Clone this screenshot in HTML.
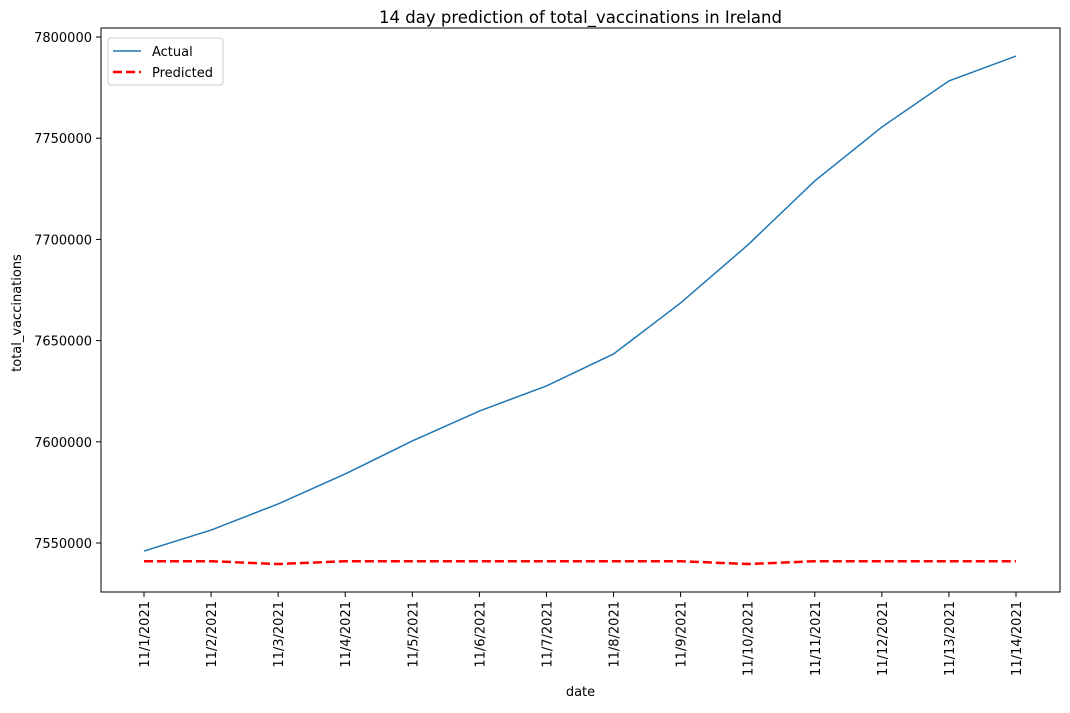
<!DOCTYPE html>
<html><head><meta charset="utf-8"><style>
body{margin:0;background:#fff;font-family:"DejaVu Sans","Liberation Sans",sans-serif;}
</style></head><body>
<svg id="chart" width="1070" height="709" xmlns="http://www.w3.org/2000/svg" font-family="DejaVu Sans, Liberation Sans, sans-serif"></svg>
<script>
const categories=["11/1/2021","11/2/2021","11/3/2021","11/4/2021","11/5/2021","11/6/2021","11/7/2021","11/8/2021","11/9/2021","11/10/2021","11/11/2021","11/12/2021","11/13/2021","11/14/2021"];
const actualValues=[7546000,7556400,7569300,7584100,7600400,7615200,7627600,7643400,7668600,7697200,7728900,7755500,7778300,7790600];
const predictedValues=[7541000,7541000,7539600,7541000,7541000,7541000,7541000,7541000,7541000,7539600,7541000,7541000,7541000,7541000];
const yTicks=[7550000,7600000,7650000,7700000,7750000,7800000];

const NS="http://www.w3.org/2000/svg";
const svg=document.getElementById('chart');
const L=101,R=1060,T=28,B=592;
function yScale(v){return 543-(v-7550000)*101.2/50000;}
function xScale(i){return 144+i*(1016-144)/(categories.length-1);}
function el(tag,attrs,parent){const e=document.createElementNS(NS,tag);for(const k in attrs)e.setAttribute(k,attrs[k]);(parent||svg).appendChild(e);return e;}
function txt(s,attrs){const t=el('text',Object.assign({'font-size':13,fill:'#000'},attrs));t.textContent=s;return t;}

const frame=el('rect',{x:L,y:T,width:R-L,height:B-T,fill:'none',stroke:'#000','stroke-width':1});



yTicks.forEach(v=>{
  const y=yScale(v);
  const tk=el('line',{x1:L-5,x2:L,y1:y,y2:y,stroke:'#000'});
  
  
  const t=txt(String(v),{x:L-9,y:y+5,'text-anchor':'end'});
  
  
});
categories.forEach((c,i)=>{
  const x=xScale(i);
  const tk=el('line',{x1:x,x2:x,y1:B,y2:B+5,stroke:'#000'});
  
  
  const t=txt(c,{x:0,y:0,'text-anchor':'end',transform:`translate(${x+5},${B+9}) rotate(-90)`});
  
  
});

const pa=el('polyline',{points:actualValues.map((v,i)=>xScale(i)+','+yScale(v)).join(' '),fill:'none',stroke:'#1f77b4','stroke-width':1.5});


const pp=el('polyline',{points:predictedValues.map((v,i)=>xScale(i)+','+yScale(v)).join(' '),fill:'none',stroke:'#ff0000','stroke-width':2.5,'stroke-dasharray':'9,4'});



const title=txt('14 day prediction of total_vaccinations in Ireland',{x:(L+R)/2,y:23,'text-anchor':'middle','font-size':16.5});


const xl=txt('date',{x:(L+R)/2,y:696,'text-anchor':'middle'});


const yl=txt('total_vaccinations',{x:0,y:0,'text-anchor':'middle',transform:'translate(21,313) rotate(-90)'});



const lg=el('g',{});


el('rect',{x:108,y:38,width:115,height:47,rx:3,fill:'#fff',stroke:'#ccc'},lg);
el('line',{x1:113,x2:141,y1:51,y2:51,stroke:'#1f77b4','stroke-width':1.5},lg);
el('line',{x1:113,x2:141,y1:72,y2:72,stroke:'#ff0000','stroke-width':2.5,'stroke-dasharray':'9,4'},lg);
const la=el('text',{x:152,y:56,'font-size':13},lg);la.textContent='Actual';


const lp=el('text',{x:152,y:77,'font-size':13},lg);lp.textContent='Predicted';


</script>
</body></html>
